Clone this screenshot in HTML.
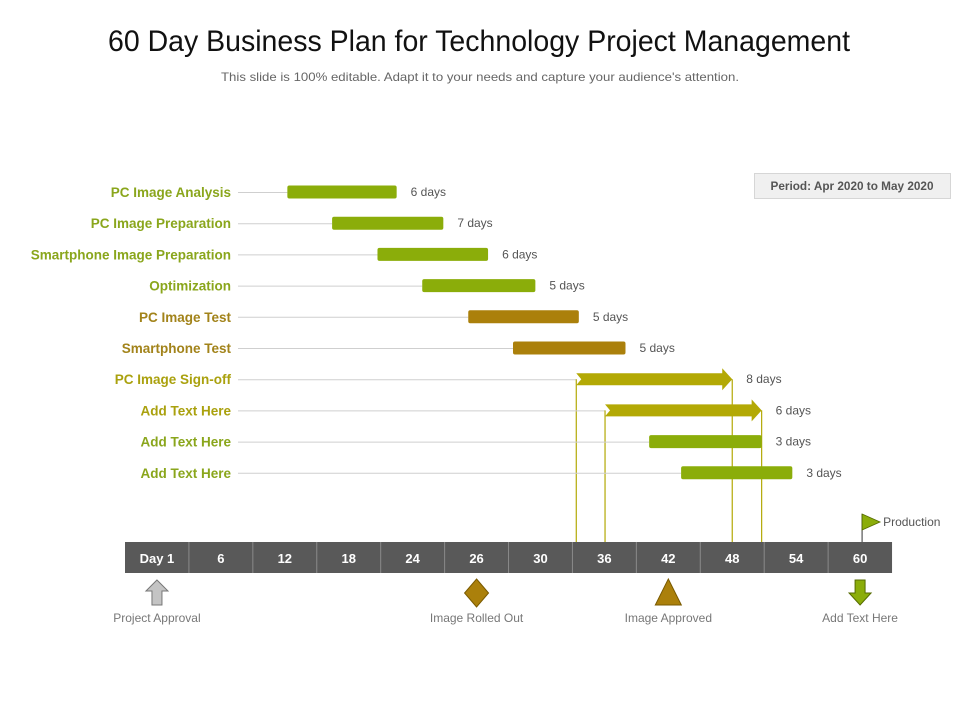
<!DOCTYPE html>
<html><head><meta charset="utf-8"><style>
html,body{margin:0;padding:0;background:#fff;}
svg{display:block;font-family:"Liberation Sans",sans-serif;}
</style></head><body>
<svg id="chart" width="960" height="720" viewBox="0 0 960 720" xmlns="http://www.w3.org/2000/svg">
<text x="479" y="51" text-anchor="middle" font-size="30" fill="#111" textLength="742" lengthAdjust="spacingAndGlyphs">60 Day Business Plan for Technology Project Management</text>
<text x="480" y="81" text-anchor="middle" font-size="12" fill="#666" textLength="518" lengthAdjust="spacingAndGlyphs">This slide is 100% editable. Adapt it to your needs and capture your audience's attention.</text>
<g>
<rect x="754.5" y="173.5" width="196" height="25" fill="#f0f0f0" stroke="#d6d6d6"/>
<text x="852" y="190" text-anchor="middle" font-size="12" font-weight="bold" fill="#555" textLength="163" lengthAdjust="spacingAndGlyphs">Period: Apr 2020 to May 2020</text>
</g>
<g id="rows"></g>
<g id="axis"></g>
<g id="milestones"></g>
</svg>
<script>
const tasks = ["PC Image Analysis","PC Image Preparation","Smartphone Image Preparation","Optimization","PC Image Test","Smartphone Test","PC Image Sign-off","Add Text Here","Add Text Here","Add Text Here"];
const starts = [2.54,3.24,3.95,4.65,5.37,6.07,7.06,7.51,8.2,8.7];
const ends = [4.25,4.98,5.68,6.42,7.1,7.83,9.5,9.96,9.96,10.44];
const durations = ["6 days","7 days","6 days","5 days","5 days","5 days","8 days","6 days","3 days","3 days"];
const kinds = ["green","green","green","green","brown","brown","arrow","arrow","green","green"];
const ticks = ["Day 1","6","12","18","24","26","30","36","42","48","54","60"];
const milestoneNames = ["Project Approval","Image Rolled Out","Image Approved","Add Text Here"];
const milestoneSlots = [0,5,8,11];
const milestoneShapes = ["up-arrow","diamond","triangle","down-arrow"];

const NS="http://www.w3.org/2000/svg";
const x0=125, slotW=63.92;
const xs = u => x0 + u*slotW;
const ys = i => 192 + i*31.2;
const fill = {green:"#8bad0a",brown:"#ab800b",arrow:"#b3a905"};
const labelCol = {green:"#8aa61c",brown:"#a2831a",arrow:"#aaa10e"};
function mk(tag,attrs,parent){const e=document.createElementNS(NS,tag);for(const k in attrs)e.setAttribute(k,attrs[k]);parent.appendChild(e);return e;}
const rows=document.getElementById('rows');
tasks.forEach((t,i)=>{
  const g=mk('g',{},rows);
  
  
  const y=ys(i), x1=xs(starts[i]), x2=xs(ends[i]);
  mk('line',{x1:238,x2:x1,y1:y+0.5,y2:y+0.5,stroke:"#cfcfcf"},g);
  const lb=mk('text',{x:231,y:y+5,'text-anchor':'end','font-size':13.5,'font-weight':'bold',fill:labelCol[kinds[i]]},g);
  lb.textContent=t;
  
  
  let bar;
  if(kinds[i]==='arrow'){
    bar=mk('path',{d:`M${x1} ${y-6} L${x2-10} ${y-6} L${x2-10} ${y-11} L${x2} ${y} L${x2-10} ${y+11} L${x2-10} ${y+6} L${x1} ${y+6} L${x1+5} ${y} Z`,fill:fill.arrow},g);
    mk('line',{x1:x1,x2:x1,y1:y,y2:542,stroke:"#b3a905","stroke-width":1.2},g);
    mk('line',{x1:x2,x2:x2,y1:y,y2:542,stroke:"#b3a905","stroke-width":1.2},g);
  } else {
    bar=mk('rect',{x:x1,y:y-6.5,width:x2-x1,height:13,rx:2,fill:fill[kinds[i]]},g);
  }
  
  
  const d=mk('text',{x:x2+14,y:y+4,'font-size':12,fill:"#555"},g);
  d.textContent=durations[i];
  
  
});
const ax=document.getElementById('axis');
const axBg=mk('rect',{x:x0,y:542,width:slotW*ticks.length,height:31,fill:"#595959"},ax);


ticks.forEach((t,i)=>{
  if(i>0) mk('line',{x1:xs(i),x2:xs(i),y1:542,y2:573,stroke:"#8a8a8a"},ax);
  const tx=mk('text',{x:xs(i+0.5),y:563,'text-anchor':'middle','font-size':13,'font-weight':'bold',fill:"#fff"},ax);
  tx.textContent=t;
  
  
});
// production flag
const fx=xs(11.5)+2;
const fg=mk('g',{},ax);


mk('line',{x1:fx,x2:fx,y1:514,y2:542,stroke:"#333"},fg);
mk('path',{d:`M${fx} 514 L${fx+18} 522 L${fx} 530 Z`,fill:"#8bad0a",stroke:"#556b00","stroke-width":0.8},fg);
const pt=mk('text',{x:fx+21,y:526,'font-size':12,fill:"#555"},fg);pt.textContent="Production";
const ms=document.getElementById('milestones');
milestoneNames.forEach((n,i)=>{
  const g=mk('g',{},ms);
  
  
  const cx=xs(milestoneSlots[i]+0.5), cy=593;
  const s=milestoneShapes[i];
  if(s==='up-arrow') mk('path',{d:`M${cx} ${cy-13} L${cx+11} ${cy-2} L${cx+5} ${cy-2} L${cx+5} ${cy+12} L${cx-5} ${cy+12} L${cx-5} ${cy-2} L${cx-11} ${cy-2} Z`,fill:"#c4c4c4",stroke:"#777"},g);
  if(s==='diamond') mk('path',{d:`M${cx} ${cy-14} L${cx+12} ${cy} L${cx} ${cy+14} L${cx-12} ${cy} Z`,fill:"#ab800b",stroke:"#7a5a00"},g);
  if(s==='triangle') mk('path',{d:`M${cx} ${cy-14} L${cx+13} ${cy+12} L${cx-13} ${cy+12} Z`,fill:"#ab800b",stroke:"#7a5a00"},g);
  if(s==='down-arrow') mk('path',{d:`M${cx-5} ${cy-13} L${cx+5} ${cy-13} L${cx+5} ${cy} L${cx+11} ${cy} L${cx} ${cy+12} L${cx-11} ${cy} L${cx-5} ${cy} Z`,fill:"#8bad0a",stroke:"#556b00"},g);
  const t=mk('text',{x:cx,y:622,'text-anchor':'middle','font-size':12,fill:"#777"},g);
  t.textContent=n;
});
</script>
</body></html>
